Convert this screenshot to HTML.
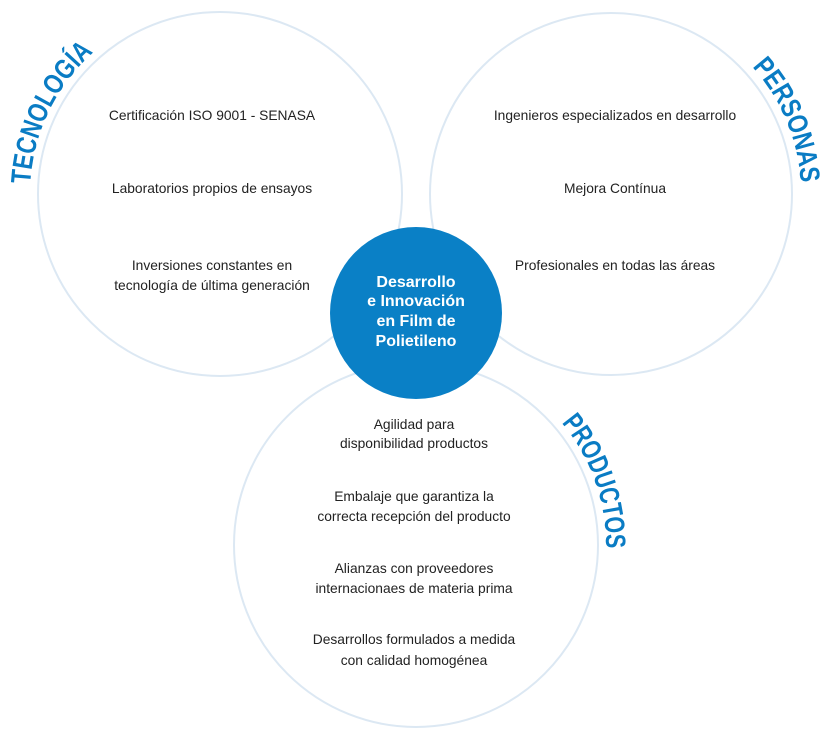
<!DOCTYPE html>
<html><head><meta charset="utf-8"><style>
html,body{margin:0;padding:0;background:#fff;}
svg{display:block}
.t{font-family:"Liberation Sans",sans-serif;font-size:13.8px;fill:#222;text-anchor:middle}
.c{font-family:"Liberation Sans",sans-serif;font-size:16px;font-weight:bold;fill:#fff;text-anchor:middle}
.a{font-family:"Liberation Sans",sans-serif;font-size:28px;font-weight:bold;fill:#0a7cc4}
</style></head><body>
<svg width="830" height="733" viewBox="0 0 830 733">
<defs>
<path id="pl" d="M30.3,184.1 A190,190 0 0 1 97.8,48.5"/>
<path id="pr" d="M752.2,66.9 A190,190 0 0 1 800.9,187.4"/>
<path id="pb" d="M561.5,422.8 A190,190 0 0 1 605.9,551.6"/>
</defs>
<g fill="none" stroke="#dce8f3" stroke-width="2">
<circle cx="220" cy="194" r="182"/>
<circle cx="611" cy="194" r="181"/>
<circle cx="416" cy="545" r="182"/>
</g>
<circle cx="416" cy="313" r="86" fill="#0a80c6"/>
<text class="a"><textPath href="#pl" textLength="150" lengthAdjust="spacingAndGlyphs">TECNOLOGÍA</textPath></text>
<text class="a"><textPath href="#pr" textLength="128" lengthAdjust="spacingAndGlyphs">PERSONAS</textPath></text>
<text class="a"><textPath href="#pb" textLength="136" lengthAdjust="spacingAndGlyphs">PRODUCTOS</textPath></text>
<text class="t" x="212" y="120">Certificación ISO 9001 - SENASA</text>
<text class="t" x="212" y="193">Laboratorios propios de ensayos</text>
<text class="t" x="212" y="270">Inversiones constantes en</text>
<text class="t" x="212" y="290">tecnología de última generación</text>
<text class="t" x="615" y="120">Ingenieros especializados en desarrollo</text>
<text class="t" x="615" y="193">Mejora Contínua</text>
<text class="t" x="615" y="270">Profesionales en todas las áreas</text>
<text class="t" x="414" y="429">Agilidad para</text>
<text class="t" x="414" y="448">disponibilidad productos</text>
<text class="t" x="414" y="501">Embalaje que garantiza la</text>
<text class="t" x="414" y="521">correcta recepción del producto</text>
<text class="t" x="414" y="573">Alianzas con proveedores</text>
<text class="t" x="414" y="593">internacionaes de materia prima</text>
<text class="t" x="414" y="644">Desarrollos formulados a medida</text>
<text class="t" x="414" y="665">con calidad homogénea</text>
<text class="c" x="416" y="287">Desarrollo</text>
<text class="c" x="416" y="306">e Innovación</text>
<text class="c" x="416" y="326">en Film de</text>
<text class="c" x="416" y="346">Polietileno</text>
</svg>
</body></html>
